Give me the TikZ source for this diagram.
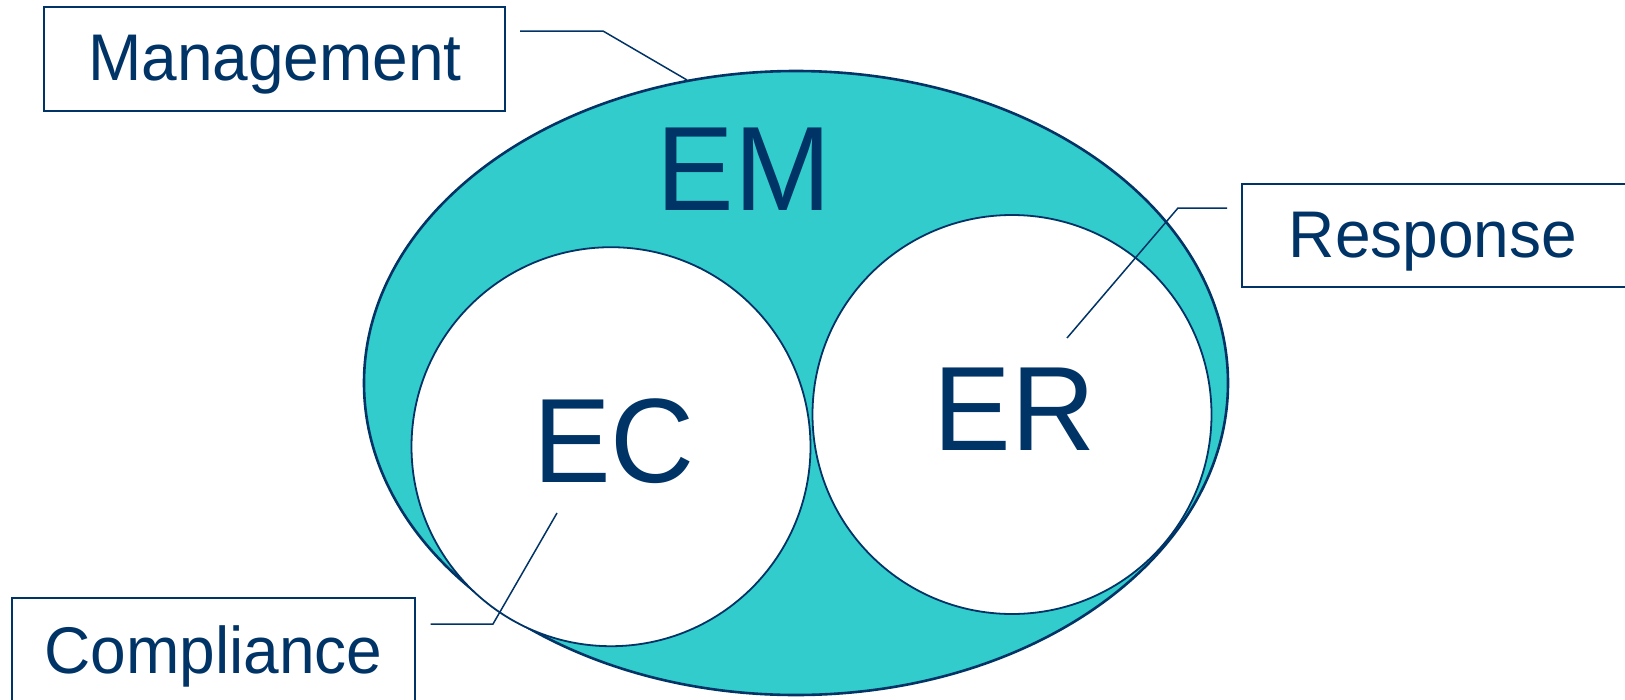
\documentclass[tikz,border=0pt]{standalone}
\usepackage{fontspec}
\setmainfont{Liberation Sans}[FakeStretch=0.97]
\usetikzlibrary{shapes.geometric}
\definecolor{navy}{HTML}{003366}
\definecolor{teal}{HTML}{33CCCC}
\begin{document}
\begin{tikzpicture}[x=1pt,y=-1pt,
  outer/.style={ellipse, draw=navy, fill=teal, line width=2.6pt, minimum width=864, minimum height=624, inner sep=0pt},
  inner/.style={circle, draw=navy, fill=white, line width=1.8pt, minimum size=399, inner sep=0pt},
  box/.style={rectangle, draw=navy, line width=2pt, fill=white, inner sep=0pt},
  lbl/.style={text=navy, inner sep=0pt, font=\fontsize{66}{70}\selectfont},
  big/.style={text=navy, inner sep=0pt, font=\fontsize{120}{130}\selectfont},
  leader/.style={draw=navy, line width=1.5pt}]
\useasboundingbox (0,0) rectangle (1625,699);
\node[outer] (em) at (796,383) {};
\node[inner] (ec) at (611,446.7) {};
\node[inner] (er) at (1012,414.5) {};
\node[big, anchor=base] (emt) at (744,210.7) {EM};
\node[big, anchor=base] (ect) at (614,482.7) {EC};
\node[big, anchor=base] (ert) at (1014.6,450.7) {ER};
% boxes
\node[box, minimum width=461, minimum height=104] (mbox) at (274,58.7) {};
\node[lbl, anchor=base] (mtext) at (275,80) {Management};
\node[box, minimum width=418, minimum height=103] (rbox) at (1451,235.5) {};
\node[lbl, anchor=base] (rtext) at (1433,257) {Response};
\node[box, minimum width=403, minimum height=122] (cbox) at (213,659) {};
\node[lbl, anchor=base] (ctext) at (213.5,673) {Compliance};
% leaders
\coordinate (m1) at (520,31);
\coordinate (m2) at (603,31);
\coordinate (m3) at (687,80);
\draw[leader] (m1) -- (m2) -- (m3);
\coordinate (r1) at (1227,208);
\coordinate (r2) at (1178,208);
\coordinate (r3) at (1067,338);
\draw[leader] (r1) -- (r2) -- (r3);
\coordinate (c1) at (430.5,624);
\coordinate (c2) at (493,624);
\coordinate (c3) at (557,513);
\draw[leader] (c1) -- (c2) -- (c3);
\end{tikzpicture}
\end{document}
